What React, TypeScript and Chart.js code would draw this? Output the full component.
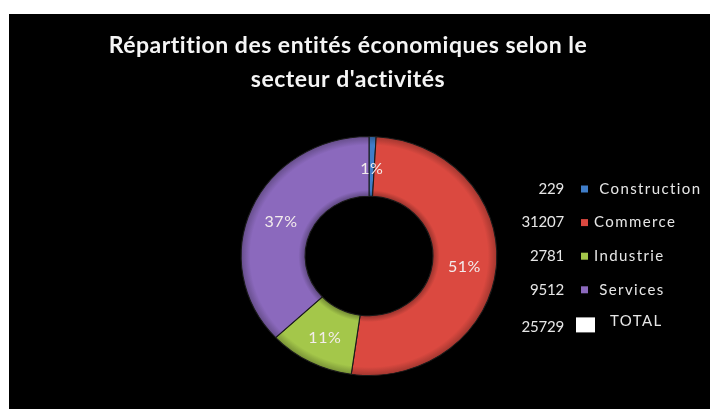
import { useEffect, useRef } from 'react';
import { Chart, registerables } from 'chart.js';

Chart.register(...registerables);

const titleLines = ['Répartition des entités économiques selon le', "secteur d'activités"];
const categories = ['Construction', 'Commerce', 'Industrie', 'Services'];
const sliceValues = [229, 13207, 2781, 9512];
const sliceColors = ['#3F7DC8', '#DB4940', '#A4C74A', '#8B69BD'];
const legendNumbers = ['229', '31207', '2781', '9512', '25729'];
const legendLabels = [' Construction', 'Commerce', 'Industrie', ' Services', 'TOTAL'];
const legendColors = ['#3F7DC8', '#DB4940', '#A4C74A', '#8B69BD', '#FFFFFF'];

const STRETCH_X = 1.07;

function shade(hex: string, f: number) {
  const n = parseInt(hex.slice(1), 16);
  const r = Math.round(((n >> 16) & 255) * f);
  const g = Math.round(((n >> 8) & 255) * f);
  const b = Math.round((n & 255) * f);
  return `rgb(${Math.min(255, r)},${Math.min(255, g)},${Math.min(255, b)})`;
}

const customPlugin = {
  id: 'customDraw',
  beforeDraw(chart: any) {
    const { ctx, width, height } = chart;
    ctx.save();
    ctx.fillStyle = '#000';
    ctx.fillRect(0, 0, width, height);
    ctx.restore();
  },
  beforeDatasetsDraw(chart: any) {
    const { ctx, chartArea } = chart;
    const cx = (chartArea.left + chartArea.right) / 2;
    const cy = (chartArea.top + chartArea.bottom) / 2;
    ctx.save();
    ctx.translate(cx, cy);
    ctx.scale(STRETCH_X, 1);
    ctx.translate(-cx, -cy);
  },
  afterDatasetsDraw(chart: any) {
    const { ctx, chartArea } = chart;
    ctx.restore();
    const cx = (chartArea.left + chartArea.right) / 2;
    const total = sliceValues.reduce((a, b) => a + b, 0);
    const meta = chart.getDatasetMeta(0);

    // percentage labels
    ctx.save();
    ctx.font = '16px Lato';
    ctx.fillStyle = '#F3ECEC';
    ctx.textAlign = 'center';
    ctx.textBaseline = 'middle';
    (ctx as any).letterSpacing = '0.5px';
    meta.data.forEach((arc: any, i: number) => {
      const p = arc.tooltipPosition();
      const x = cx + (p.x - cx) * STRETCH_X;
      const pct = Math.round((sliceValues[i] / total) * 100) + '%';
      ctx.fillText(pct, x, p.y + 2);
    });
    ctx.restore();

    // title
    ctx.save();
    ctx.font = 'bold 23px Lato';
    (ctx as any).letterSpacing = '0.5px';
    ctx.fillStyle = '#F5F5F5';
    ctx.textAlign = 'center';
    ctx.textBaseline = 'alphabetic';
    titleLines.forEach((line, i) => {
      ctx.fillText(line, 339, 39 + i * 34);
    });
    ctx.restore();

    // legend
    ctx.save();
    ctx.textBaseline = 'middle';
    legendLabels.forEach((label, i) => {
      const y = 175 + i * 33.6;
      const isTotal = i === legendLabels.length - 1;
      ctx.font = '15px Lato';
      (ctx as any).letterSpacing = '-0.2px';
      ctx.fillStyle = '#E6E6E6';
      ctx.textAlign = 'right';
      ctx.fillText(legendNumbers[i], 555, y + (isTotal ? 4 : 0));
      ctx.fillStyle = legendColors[i];
      if (isTotal) {
        ctx.fillRect(567, y - 6, 19, 15);
      } else {
        ctx.fillRect(572, y - 3.5, 7, 7);
      }
      ctx.font = '15px Lato';
      (ctx as any).letterSpacing = '1.4px';
      ctx.fillStyle = '#E6E6E6';
      ctx.textAlign = 'left';
      ctx.fillText(label, isTotal ? 601 : 585, y - (isTotal ? 2 : 0));
    });
    ctx.restore();
  },
};

export default function App() {
  const ref = useRef<HTMLCanvasElement>(null);
  useEffect(() => {
    const canvas = ref.current;
    if (!canvas) return;
    const chart = new Chart(canvas, {
      type: 'doughnut',
      data: {
        labels: categories,
        datasets: [
          {
            data: sliceValues,
            backgroundColor: (c: any) => {
              const base = sliceColors[c.dataIndex];
              const area = c.chart.chartArea;
              if (!area) return base;
              const x = (area.left + area.right) / 2;
              const y = (area.top + area.bottom) / 2;
              const outer = Math.min(area.right - area.left, area.bottom - area.top) / 2;
              const inner = outer * 0.5;
              const g = c.chart.ctx.createRadialGradient(x, y, inner, x, y, outer);
              g.addColorStop(0, shade(base, 0.7));
              g.addColorStop(0.1, base);
              g.addColorStop(0.85, base);
              g.addColorStop(1, shade(base, 0.72));
              return g;
            },
            borderColor: '#1a1a1a',
            borderWidth: 1,
          },
        ],
      },
      options: {
        animation: false,
        responsive: true,
        maintainAspectRatio: false,
        events: [],
        cutout: '50%',
        layout: { padding: { left: 240, right: 221, top: 122, bottom: 33 } },
        plugins: {
          legend: { display: false },
          title: { display: false },
          tooltip: { enabled: false },
        },
      },
      plugins: [customPlugin],
    });
    return () => chart.destroy();
  }, []);
  return (
    <div style={{ position: 'absolute', left: 9, top: 14, width: 701, height: 395, background: '#000' }}>
      <canvas ref={ref} />
    </div>
  );
}
